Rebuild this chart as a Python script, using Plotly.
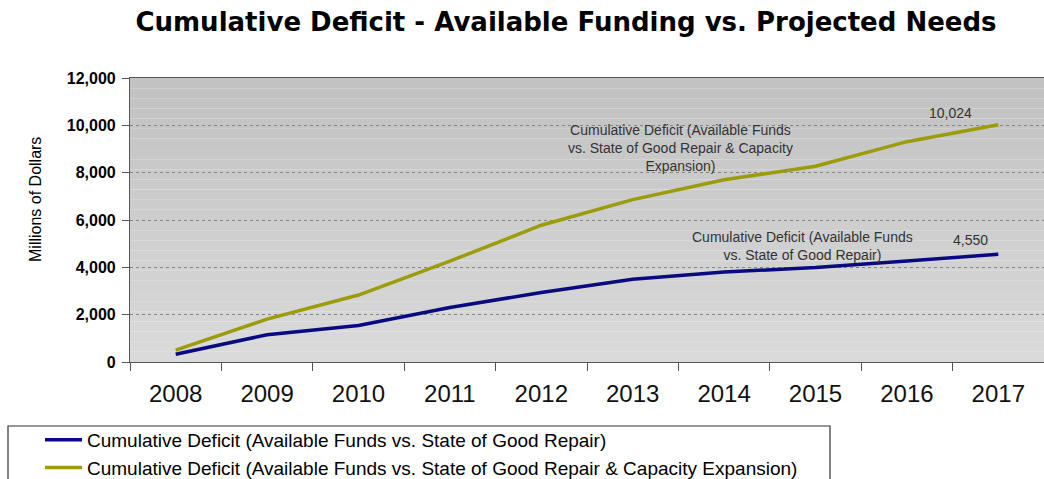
import plotly.graph_objects as go

years = ["2008", "2009", "2010", "2011", "2012", "2013", "2014", "2015", "2016", "2017"]
sgr_deficit = [330, 1150, 1540, 2300, 2940, 3500, 3800, 3990, 4270, 4550]
sgr_cap_deficit = [500, 1810, 2830, 4260, 5780, 6860, 7700, 8270, 9310, 10024]
series_names = [
    "Cumulative Deficit (Available Funds vs. State of Good Repair)",
    "Cumulative Deficit (Available Funds vs. State of Good Repair & Capacity Expansion)",
]
y_ticks = [0, 2000, 4000, 6000, 8000, 10000, 12000]

W, H = 1044, 479
L, R, T, B = 130, 0, 78, 117
PW, PH = W - L - R, H - T - B
FONT = "Liberation Sans, Arial, sans-serif"


def px_x(p):
    return (p - L) / PW


def px_y(p):
    return (H - B - p) / PH


fig = go.Figure()
fig.add_trace(go.Scatter(x=years, y=sgr_deficit, mode="lines", name=series_names[0],
                         line=dict(color="#0A0A80", width=3.5), legendgroup="a"))
fig.add_trace(go.Scatter(x=years, y=sgr_cap_deficit, mode="lines", name=series_names[1],
                         line=dict(color="#9C9C0A", width=3.5), legendgroup="b"))

# subtle vertical gradient in plot background
shapes = []
n = 28
for i in range(n):
    t = i / (n - 1)
    c = int(0xC2 + (0xDA - 0xC2) * t)
    shapes.append(dict(type="rect", xref="paper", yref="paper", x0=0, x1=1,
                       y0=1 - (i + 1) / n, y1=1 - i / n, layer="below",
                       fillcolor=f"rgb({c},{c},{c})", line=dict(width=0)))
# legend frame
shapes.append(dict(type="rect", xref="paper", yref="paper",
                   x0=px_x(8), x1=px_x(830), y0=px_y(490), y1=px_y(426),
                   line=dict(color="#333333", width=1.2), fillcolor="rgba(0,0,0,0)"))

ann_font = dict(family=FONT, size=14, color="#333333")
annotations = [
    dict(text="Cumulative Deficit (Available Funds<br>vs. State of Good Repair & Capacity<br>Expansion)",
         xref="paper", yref="paper", x=px_x(680), y=px_y(148), showarrow=False,
         xanchor="center", yanchor="middle", font=ann_font, align="center"),
    dict(text="Cumulative Deficit (Available Funds<br>vs. State of Good Repair)",
         xref="paper", yref="paper", x=px_x(802), y=px_y(246), showarrow=False,
         xanchor="center", yanchor="middle", font=ann_font, align="center"),
    dict(text=f"{sgr_cap_deficit[-1]:,}", xref="paper", yref="paper", x=px_x(950), y=px_y(113),
         showarrow=False, xanchor="center", yanchor="middle", font=ann_font),
    dict(text=f"{sgr_deficit[-1]:,}", xref="paper", yref="paper", x=px_x(970), y=px_y(240),
         showarrow=False, xanchor="center", yanchor="middle", font=ann_font),
    dict(text="Millions of Dollars", xref="paper", yref="paper", x=px_x(35), y=px_y(200),
         showarrow=False, xanchor="center", yanchor="middle", textangle=-90,
         font=dict(family=FONT, size=16, color="black")),
]

fig.update_layout(
    width=W, height=H,
    margin=dict(l=L, r=R, t=T, b=B, pad=0, autoexpand=False),
    paper_bgcolor="white",
    plot_bgcolor="rgba(0,0,0,0)",
    title=dict(text="<b>Cumulative Deficit - Available Funding vs. Projected Needs</b>",
               x=566 / W, xref="container", xanchor="center",
               y=1 - 22 / H, yref="container", yanchor="middle",
               font=dict(family="DejaVu Sans, sans-serif", size=26, color="black")),
    xaxis=dict(type="category", range=[-0.5, 9.5], tickson="boundaries",
               ticks="outside", ticklen=8, tickcolor="#555555", tickwidth=1.2,
               showgrid=False, showline=True, linecolor="#555555", linewidth=1.2, mirror=True,
               tickangle=0, automargin=False, ticklabelstandoff=10,
               tickfont=dict(family=FONT, size=24, color="#111111"), fixedrange=True),
    yaxis=dict(range=[0, 12000], tickvals=y_ticks, tickformat=",",
               ticks="outside", ticklen=7, tickcolor="#555555", tickwidth=1.2,
               showgrid=True, gridcolor="#858585", griddash="dot", gridwidth=1,
               showline=True, linecolor="#555555", linewidth=1.2, zeroline=False,
               automargin=False, ticklabelstandoff=3,
               tickfont=dict(family=FONT, size=16, color="black", weight="bold")),
    showlegend=True,
    legend=dict(xref="container", yref="container", x=40 / W, y=1 - 421 / H,
                xanchor="left", yanchor="top", bgcolor="rgba(0,0,0,0)", borderwidth=0,
                font=dict(family=FONT, size=19, color="black"), tracegroupgap=2,
                traceorder="normal", itemwidth=37),
    shapes=shapes,
    annotations=annotations,
)

fig.write_html("out.html")
